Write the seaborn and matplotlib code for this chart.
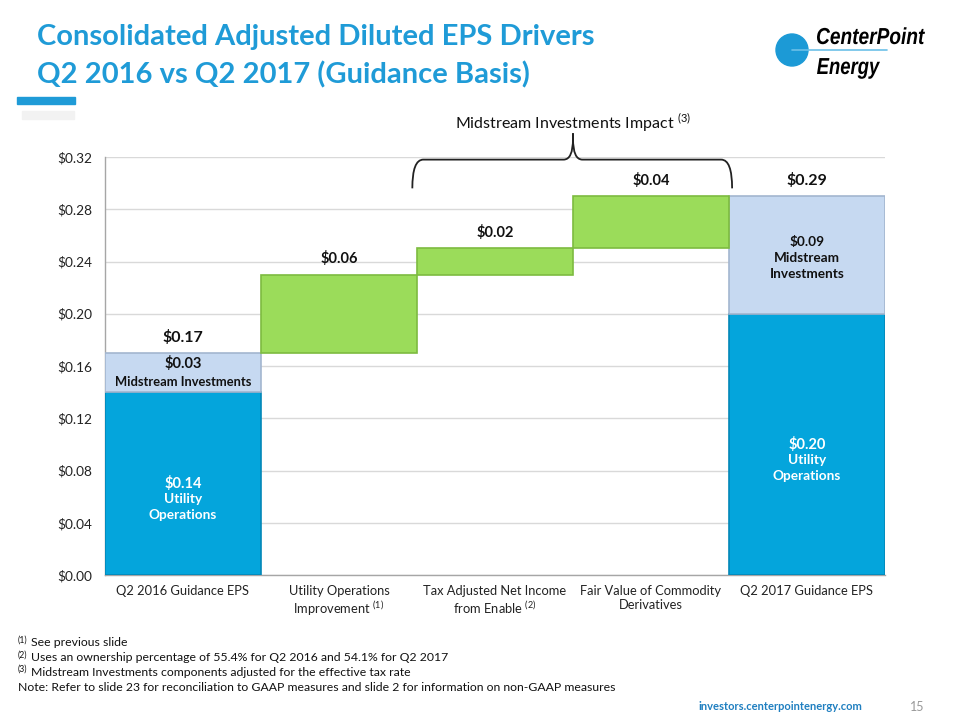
import matplotlib
matplotlib.use("Agg")
import matplotlib.pyplot as plt
import seaborn as sns
import pandas as pd
from matplotlib.path import Path
from matplotlib.patches import PathPatch, Circle, Rectangle
from matplotlib.ticker import FuncFormatter, FixedLocator
from matplotlib.textpath import TextPath
from matplotlib.font_manager import FontProperties
from matplotlib.transforms import Affine2D, IdentityTransform

sns.set_style("white")
plt.rcParams["font.family"] = ["Lato", "DejaVu Sans"]

# Data
categories = ["Q2 2016 Guidance EPS", "Utility Operations Improvement",
              "Tax Adjusted Net Income from Enable", "Fair Value of Commodity Derivatives",
              "Q2 2017 Guidance EPS"]
tick_labels = ["Q2 2016 Guidance EPS",
               "Utility Operations\nImprovement $^{\\mathregular{(1)}}$",
               "Tax Adjusted Net Income\nfrom Enable $^{\\mathregular{(2)}}$",
               "Fair Value of Commodity\nDerivatives",
               "Q2 2017 Guidance EPS"]
utility_ops = [0.14, 0.0, 0.0, 0.0, 0.20]
midstream = [0.03, 0.0, 0.0, 0.0, 0.09]
changes = [0.0, 0.06, 0.02, 0.04, 0.0]
yticks = [0.00, 0.04, 0.08, 0.12, 0.16, 0.20, 0.24, 0.28, 0.32]
note_marks = ["(1)", "(2)", "(3)", ""]
notes = ["See previous slide",
         "Uses an ownership percentage of 55.4% for Q2 2016 and 54.1% for Q2 2017",
         "Midstream Investments components adjusted for the effective tax rate",
         "Note: Refer to slide 23 for reconciliation to GAAP measures and slide 2 for information on non-GAAP measures"]

BLUE = "#04A5DC"
BLUE_EDGE = "#0388B8"
LIGHT = "#C6D9F1"
LIGHT_EDGE = "#A3B6CF"
GREEN = "#9BDC5A"
GREEN_EDGE = "#7DBB40"
TITLE_BLUE = "#1F9BD7"

fig = plt.figure(figsize=(9.6, 7.2), dpi=100)
ax = fig.add_axes([105 / 960, 1 - 575 / 720, 780 / 960, 418 / 720])

# base (utility operations) bars
df = pd.DataFrame({"category": categories, "value": utility_ops})
df = df[df["value"] > 0]
sns.barplot(data=df, x="category", y="value", order=categories, color=BLUE,
            saturation=1, width=1.0, edgecolor=BLUE_EDGE, linewidth=1.2, ax=ax, zorder=3)

# midstream stacked on top
start_total = utility_ops[0] + midstream[0]
for i in range(len(categories)):
    if midstream[i] > 0:
        ax.bar(i, midstream[i], bottom=utility_ops[i], width=1.0, color=LIGHT,
               edgecolor=LIGHT_EDGE, linewidth=1.2, zorder=3)

# floating changes
running = start_total
bottoms = []
for i in range(len(categories)):
    bottoms.append(running)
    if changes[i] > 0:
        ax.bar(i, changes[i], bottom=running, width=1.0, color=GREEN,
               edgecolor=GREEN_EDGE, linewidth=1.2, zorder=3)
        running += changes[i]

ax.set_xlim(-0.5, len(categories) - 0.5)
ax.set_ylim(0, 0.32)
ax.set_yticks(yticks)
ax.yaxis.set_major_formatter(FuncFormatter(lambda v, p: "${:.2f}".format(v)))
ax.set_xticks(range(len(categories)))
ax.set_xticklabels(tick_labels, fontsize=9.3, color="#222222")
ax.xaxis.set_minor_locator(FixedLocator([i - 0.5 for i in range(len(categories) + 1)]))
ax.tick_params(axis="x", which="major", length=0, pad=7)
ax.tick_params(axis="x", which="minor", length=5, color="#A6A6A6", width=1)
ax.tick_params(axis="y", length=5, color="#A6A6A6", labelsize=9.8, labelcolor="#222222", pad=4)
ax.set_xlabel("")
ax.set_ylabel("")
ax.yaxis.grid(True, color="#D9D9D9", linewidth=1, zorder=0)
ax.set_axisbelow(True)
for s in ["top", "right"]:
    ax.spines[s].set_visible(False)
for s in ["left", "bottom"]:
    ax.spines[s].set_color("#A6A6A6")
    ax.spines[s].set_linewidth(1)

# value labels
lbl = dict(ha="center", fontweight="bold", color="#111111", zorder=5)
ax.annotate("${:.2f}".format(start_total), (0, start_total), xytext=(0, 6),
            textcoords="offset points", va="bottom", fontsize=11.5, **lbl)
ax.text(0, utility_ops[0] + midstream[0] * 0.72, "${:.2f}".format(midstream[0]),
        va="center", fontsize=10.5, **lbl)
ax.text(0, utility_ops[0] + midstream[0] * 0.27, "Midstream Investments",
        va="center", fontsize=9.3, **lbl)
for i in range(len(categories)):
    if changes[i] > 0:
        ax.annotate("${:.2f}".format(changes[i]), (i, bottoms[i] + changes[i]),
                    xytext=(0, 6), textcoords="offset points", va="bottom",
                    fontsize=10.5, **lbl)
end_total = utility_ops[-1] + midstream[-1]
ax.annotate("${:.2f}".format(end_total), (4, end_total), xytext=(0, 6),
            textcoords="offset points", va="bottom", fontsize=11.5, **lbl)
ax.text(4, utility_ops[-1] + midstream[-1] * 0.47, "${:.2f}".format(midstream[-1]) +
        "\nMidstream\nInvestments", va="center", fontsize=9.8, linespacing=1.4, **lbl)
for i in [0, 4]:
    ax.text(i, utility_ops[i] / 2, "${:.2f}".format(utility_ops[i]), ha="center",
            va="center", fontsize=10.5, fontweight="bold", color="white", zorder=5)
    ax.text(i, utility_ops[i] / 2 - 0.018, "Utility\nOperations", ha="center",
            va="center", fontsize=9.8, fontweight="bold", color="white",
            linespacing=1.45, zorder=5)

# brace over the midstream impact items
x0, x1, xm = 1.47, 3.52, 2.5
yb, yt, yp = 0.296, 0.318, 0.338
verts = [(x0, yb), (x0, yt), (x0 + 0.07, yt), (xm - 0.06, yt),
         (xm, yt), (xm, yp - 0.004), (xm, yp),
         (xm, yp - 0.004), (xm, yt), (xm + 0.06, yt),
         (x1 - 0.07, yt), (x1, yt), (x1, yb)]
codes = [Path.MOVETO, Path.CURVE3, Path.CURVE3, Path.LINETO,
         Path.CURVE3, Path.CURVE3, Path.LINETO,
         Path.LINETO, Path.CURVE3, Path.CURVE3,
         Path.LINETO, Path.CURVE3, Path.CURVE3]
ax.add_patch(PathPatch(Path(verts, codes), fill=False, edgecolor="#222222",
                       linewidth=1.3, clip_on=False, zorder=5))
ax.text(xm, 0.3375, "Midstream Investments Impact $^{\\mathregular{(3)}}$", ha="center",
        va="bottom", fontsize=11.5, color="#111111")

# title
fig.text(37 / 960, 1 - 37 / 720, "Consolidated Adjusted Diluted EPS Drivers",
         fontsize=21, fontweight="bold", color=TITLE_BLUE, va="center")
fig.text(37 / 960, 1 - 75 / 720, "Q2 2016 vs Q2 2017 (Guidance Basis)",
         fontsize=21, fontweight="bold", color=TITLE_BLUE, va="center")
fig.patches.append(Rectangle((17 / 960, 1 - 104 / 720), 58 / 960, 7 / 720,
                             transform=fig.transFigure, color="#1F9BD7"))
fig.patches.append(Rectangle((22 / 960, 1 - 119 / 720), 52 / 960, 8 / 720,
                             transform=fig.transFigure, color="#F2F2F2"))

# logo (condensed bold italic wordmark)
fig.patches.append(Circle((792, 720 - 50), 16, transform=IdentityTransform(),
                          color="#1C9AD6"))
fig.lines.append(plt.Line2D([792, 887], [670, 670], transform=IdentityTransform(),
                            color="#6CC0E8", linewidth=1.2))
fp = FontProperties(family="Liberation Sans", weight="bold", style="italic")
tp1 = TextPath((0, 0), "CenterPoint", size=20, prop=fp)
tp2 = TextPath((0, 0), "Energy", size=20, prop=fp)
b1 = tp1.get_extents()
b2 = tp2.get_extents()
sy = 17 / b1.height
t1 = Affine2D().translate(-b1.x0, 0).scale(108 / b1.width, sy).translate(817, 720 - 44)
t2 = Affine2D().translate(-b2.x0, 0).scale(63 / b2.width, sy).translate(817, 720 - 74)
fig.patches.append(PathPatch(t1.transform_path(tp1), transform=IdentityTransform(),
                             color="black", lw=0))
fig.patches.append(PathPatch(t2.transform_path(tp2), transform=IdentityTransform(),
                             color="black", lw=0))

# footnotes
for k in range(len(notes)):
    yc = 1 - (643 + 14.7 * k) / 720
    if note_marks[k]:
        fig.text(18 / 960, yc + 3 / 720, note_marks[k], fontsize=6.3,
                 color="#111111", va="center")
        fig.text(31 / 960, yc, notes[k], fontsize=8.8, color="#111111", va="center")
    else:
        fig.text(18 / 960, yc, notes[k], fontsize=8.8, color="#111111", va="center")
fig.text(698 / 960, 1 - 707 / 720, "investors.centerpointenergy.com", fontsize=8,
         fontweight="bold", color="#1F7FC0", va="center")
fig.text(910 / 960, 1 - 707 / 720, "15", fontsize=9, color="#999999", va="center")

fig.savefig("out.png", dpi=100)
